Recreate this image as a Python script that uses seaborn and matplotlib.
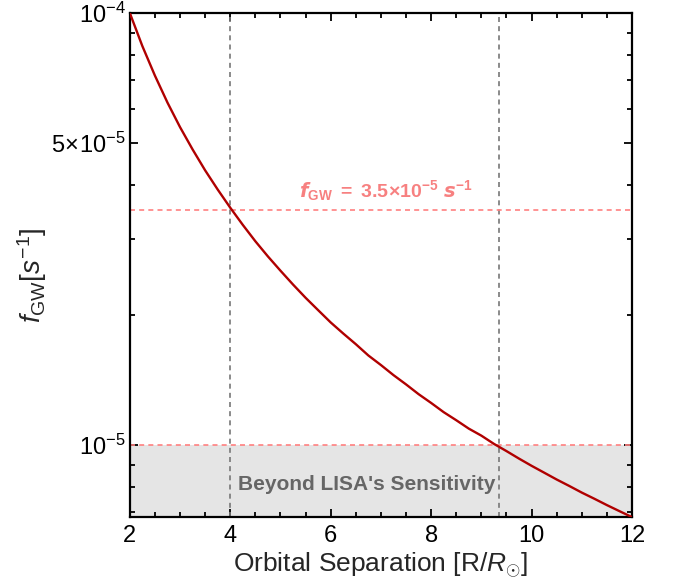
import numpy as np
import pandas as pd
import seaborn as sns
import matplotlib
matplotlib.use("Agg")
import matplotlib.pyplot as plt
from matplotlib.ticker import FixedLocator, FixedFormatter, NullFormatter

# Orbital separation (R / R_sun) and GW frequency
separation = [2.0, 2.25, 2.5, 2.75, 3.0, 3.25, 3.5, 3.75, 4.0, 4.25, 4.5,
              4.75, 5.0, 5.25, 5.5, 5.75, 6.0, 6.25, 6.5, 6.75, 7.0, 7.25,
              7.5, 7.75, 8.0, 8.25, 8.5, 8.75, 9.0, 9.25, 9.5, 9.75, 10.0,
              10.25, 10.5, 10.75, 11.0, 11.25, 11.5, 11.75, 12.0]
f_gw = [1.00e-4, 8.38e-5, 7.16e-5, 6.20e-5, 5.44e-5, 4.83e-5, 4.32e-5,
        3.90e-5, 3.54e-5, 3.23e-5, 2.96e-5, 2.73e-5, 2.53e-5, 2.35e-5,
        2.19e-5, 2.05e-5, 1.92e-5, 1.81e-5, 1.71e-5, 1.61e-5, 1.53e-5,
        1.45e-5, 1.38e-5, 1.31e-5, 1.25e-5, 1.19e-5, 1.14e-5, 1.09e-5,
        1.05e-5, 1.005e-5, 9.67e-6, 9.29e-6, 8.94e-6, 8.62e-6, 8.31e-6,
        8.03e-6, 7.75e-6, 7.50e-6, 7.25e-6, 7.02e-6, 6.80e-6]

# reference lines
f_target = 3.5e-5
f_lisa = 1.0e-5
sep_target = 4.0
sep_lisa = 9.35

y_major = [1e-5, 5e-5, 1e-4]
y_major_labels = [r"$10^{-5}$", r"$5\!\times\!10^{-5}$", r"$10^{-4}$"]
y_minor = [7e-6, 8e-6, 9e-6, 2e-5, 3e-5, 4e-5, 6e-5, 7e-5, 8e-5, 9e-5]

df = pd.DataFrame({"sep": separation, "f": f_gw})

sns.set_theme(style="ticks")
plt.rcParams["font.family"] = ["Liberation Sans", "DejaVu Sans"]
plt.rcParams["mathtext.fontset"] = "custom"
plt.rcParams["mathtext.rm"] = "Liberation Sans"
plt.rcParams["mathtext.it"] = "Liberation Sans:italic"
plt.rcParams["mathtext.bf"] = "Liberation Sans:bold"

fig = plt.figure(figsize=(6.76, 5.87), dpi=100)
ax = fig.add_axes([0.192, 0.119, 0.743, 0.859])

ymin, ymax = 6.8e-6, 1e-4
ax.set_yscale("log")
ax.set_xlim(2, 12)
ax.set_ylim(ymin, ymax)

# shaded region below LISA sensitivity
ax.axhspan(ymin, f_lisa, color="#e5e5e5", zorder=0, lw=0)

ax.axvline(sep_target, color="#777777", ls=(0, (3, 2.5)), lw=1.2, zorder=1)
ax.axvline(sep_lisa, color="#777777", ls=(0, (3, 2.5)), lw=1.2, zorder=1)
ax.axhline(f_target, color="#ff8080", ls=(0, (3, 2.5)), lw=1.2, zorder=1)
ax.axhline(f_lisa, color="#ff8080", ls=(0, (3, 2.5)), lw=1.2, zorder=1)

sns.lineplot(data=df, x="sep", y="f", ax=ax, color="#b00000", lw=1.7,
             zorder=3, legend=False)

ax.text(7.1, 3.88e-5,
        r"$\mathbfit{f}_{\mathbf{GW}}\ \mathbf{=\ 3.5\!\times\!10^{-5}}\ \mathbfit{s}^{\mathbf{-1}}$",
        color="#f78080", fontsize=14, ha="center", va="center")
ax.text(6.72, 8.1e-6, "Beyond LISA's Sensitivity", color="#666666",
        fontsize=15, fontweight="bold", ha="center", va="center")

ax.xaxis.set_major_locator(FixedLocator([2, 4, 6, 8, 10, 12]))
ax.xaxis.set_minor_locator(FixedLocator(np.arange(2, 12.01, 0.5)))
ax.yaxis.set_major_locator(FixedLocator(y_major))
ax.yaxis.set_major_formatter(FixedFormatter(y_major_labels))
ax.yaxis.set_minor_locator(FixedLocator(y_minor))
ax.yaxis.set_minor_formatter(NullFormatter())

ax.tick_params(which="both", direction="in", top=True, right=True,
               width=1.3, colors="black")
ax.tick_params(which="major", length=6, labelsize=17)
ax.tick_params(axis="x", which="major", pad=6)
ax.tick_params(axis="y", which="major", pad=3)
ax.tick_params(which="minor", length=3.5)
for s in ax.spines.values():
    s.set_linewidth(1.6)
    s.set_color("black")

ax.set_xlabel(r"Orbital Separation [R/$\mathit{R}_{\odot}$]", fontsize=19,
              labelpad=2)
ax.set_ylabel(r"$\mathit{f}_{\mathrm{GW}}[\mathit{s}^{-1}]$", fontsize=20)
ax.yaxis.set_label_coords(-0.16, 0.48)

fig.savefig("out.png", dpi=100)
